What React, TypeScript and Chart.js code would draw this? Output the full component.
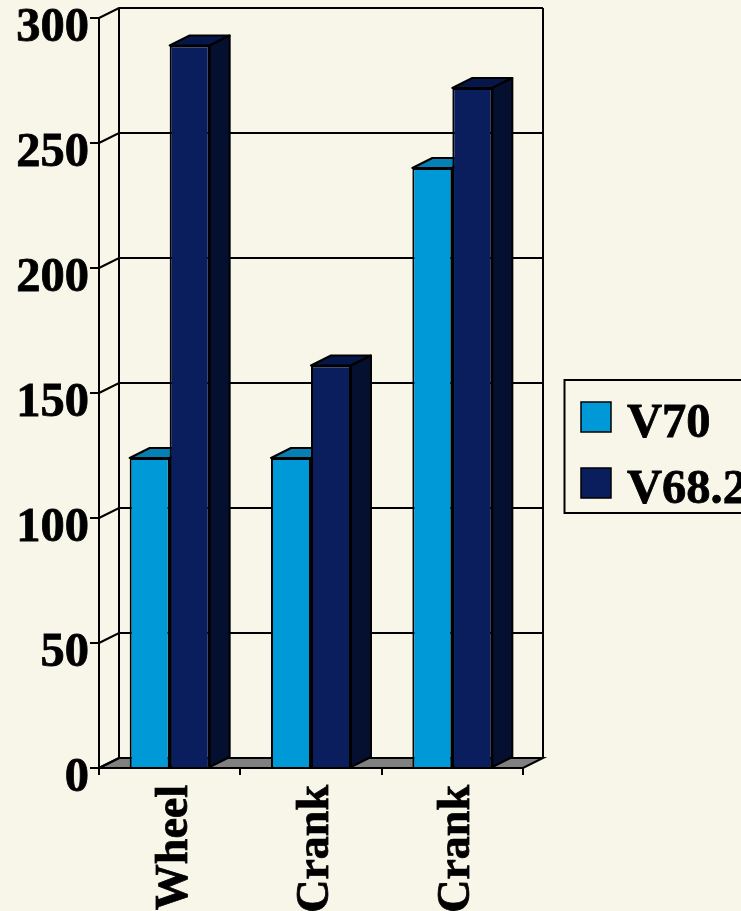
import { useEffect, useRef } from "react";
import { Chart, registerables, Plugin } from "chart.js";

Chart.register(...registerables);

const categories = ["Wheel", "Crank", "Crank"];
const v70Values = [124, 124, 240];
const v682Values = [289, 161, 272];
const seriesNames = ["V70", "V68.2"];
const faceColors = ["#0099d8", "#0a1d5c"];
const topColors = ["#0580b4", "#071648"];
const sideColors = ["#04577c", "#050f30"];

const PAPER = "#f7f6e9";
const INK = "#000000";
const FONT = '"Liberation Serif"';
const DEPTH_X = 20;
const DEPTH_Y = 10;
const LINE = 2;

function poly(ctx: CanvasRenderingContext2D, pts: number[][], fill?: string) {
  ctx.beginPath();
  pts.forEach(([x, y], i) => (i ? ctx.lineTo(x, y) : ctx.moveTo(x, y)));
  ctx.closePath();
  if (fill) {
    ctx.fillStyle = fill;
    ctx.fill();
  }
  ctx.stroke();
}

// Back wall, left wall gridlines and grey floor of the 3D box.
const boxWalls: Plugin<"bar"> = {
  id: "boxWalls",
  beforeDraw(chart) {
    const { ctx, chartArea: a } = chart;
    const y = chart.scales.y;
    ctx.save();
    ctx.strokeStyle = INK;
    ctx.lineWidth = LINE;
    poly(ctx, [
      [a.left, a.bottom],
      [a.left + DEPTH_X, a.bottom - DEPTH_Y],
      [a.right + DEPTH_X, a.bottom - DEPTH_Y],
      [a.right, a.bottom],
    ], "#808080");
    ctx.beginPath();
    ctx.moveTo(a.left + DEPTH_X, a.bottom - DEPTH_Y);
    ctx.lineTo(a.left + DEPTH_X, a.top - DEPTH_Y);
    ctx.moveTo(a.right + DEPTH_X, a.bottom - DEPTH_Y);
    ctx.lineTo(a.right + DEPTH_X, a.top - DEPTH_Y);
    y.ticks.forEach((t) => {
      const py = y.getPixelForValue(t.value);
      ctx.moveTo(a.left, py);
      ctx.lineTo(a.left + DEPTH_X, py - DEPTH_Y);
      if (t.value !== 0) {
        ctx.lineTo(a.right + DEPTH_X, py - DEPTH_Y);
      }
    });
    ctx.stroke();
    ctx.restore();
  },
  // Top and side faces of each bar; the library paints the front faces over them.
  beforeDatasetsDraw(chart) {
    const { ctx } = chart;
    ctx.save();
    ctx.strokeStyle = INK;
    ctx.lineWidth = LINE;
    ctx.lineJoin = "round";
    chart.data.datasets.forEach((_, d) => {
      chart.getDatasetMeta(d).data.forEach((el: any) => {
        const { x, y, width, base } = el.getProps(["x", "y", "width", "base"], true);
        const l = x - width / 2;
        const r = x + width / 2;
        poly(ctx, [
          [l, y],
          [l + DEPTH_X, y - DEPTH_Y],
          [r + DEPTH_X, y - DEPTH_Y],
          [r, y],
        ], topColors[d]);
        poly(ctx, [
          [r, y],
          [r + DEPTH_X, y - DEPTH_Y],
          [r + DEPTH_X, base - DEPTH_Y],
          [r, base],
        ], sideColors[d]);
      });
    });
    ctx.restore();
  },
  // Legend box that runs off the right edge of the canvas.
  afterDraw(chart) {
    const { ctx, width } = chart;
    ctx.save();
    ctx.strokeStyle = INK;
    ctx.lineWidth = LINE;
    ctx.strokeRect(564.5, 380, width, 133);
    ctx.font = `bold 48.5px ${FONT}`;
    ctx.textAlign = "left";
    ctx.textBaseline = "alphabetic";
    chart.data.datasets.forEach((ds, i) => {
      const rowY = 402 + i * 66;
      ctx.lineWidth = 1.5;
      ctx.fillStyle = faceColors[i];
      ctx.fillRect(581, rowY, 30, 30);
      ctx.strokeRect(581, rowY, 30, 30);
      ctx.fillStyle = INK;
      ctx.lineWidth = 0.8;
      ctx.strokeText(String(ds.label), 627, rowY + 35);
      ctx.fillText(String(ds.label), 627, rowY + 35);
    });
    ctx.restore();
  },
};

export default function App() {
  const canvasRef = useRef<HTMLCanvasElement>(null);

  useEffect(() => {
    const chart = new Chart(canvasRef.current!, {
      type: "bar",
      data: {
        labels: categories,
        datasets: [v70Values, v682Values].map((values, i) => ({
          label: seriesNames[i],
          data: values,
          backgroundColor: faceColors[i],
          borderColor: INK,
          borderWidth: LINE,
          categoryPercentage: 0.566,
          barPercentage: 1,
        })),
      },
      options: {
        responsive: false,
        animation: false,
        layout: { padding: { top: 18, right: 218, left: 0, bottom: 0 } },
        plugins: { legend: { display: false }, tooltip: { enabled: false } },
        scales: {
          x: {
            afterFit: (s) => { s.height = 143; s.paddingLeft = 0; s.paddingRight = 0; },
            border: { display: true, color: INK, width: LINE },
            grid: {
              drawOnChartArea: false,
              drawTicks: true,
              tickLength: 7,
              tickColor: INK,
              lineWidth: LINE,
            },
            ticks: {
              color: INK,
              font: { family: FONT, weight: "bold", size: 46 },
              minRotation: 90,
              maxRotation: 90,
              autoSkip: false,
              padding: 10,
              labelOffset: 5,
              textStrokeColor: INK,
              textStrokeWidth: 0.8,
            },
          },
          y: {
            min: 0,
            max: 300,
            afterFit: (s) => { s.width = 99; s.paddingTop = 0; s.paddingBottom = 0; },
            border: { display: true, color: INK, width: LINE },
            grid: {
              drawOnChartArea: false,
              drawTicks: true,
              tickLength: 9,
              tickColor: INK,
              lineWidth: LINE,
            },
            ticks: {
              color: INK,
              stepSize: 50,
              font: { family: FONT, weight: "bold", size: 48.5 },
              padding: 1,
              labelOffset: 10,
              textStrokeColor: INK,
              textStrokeWidth: 0.8,
            },
          },
        },
      },
      plugins: [boxWalls],
    });
    return () => chart.destroy();
  }, []);

  return (
    <div style={{ position: "absolute", left: 0, top: 0, width: 741, height: 911, background: PAPER, overflow: "hidden" }}>
      <canvas ref={canvasRef} width={741} height={911} style={{ display: "block" }} />
    </div>
  );
}
